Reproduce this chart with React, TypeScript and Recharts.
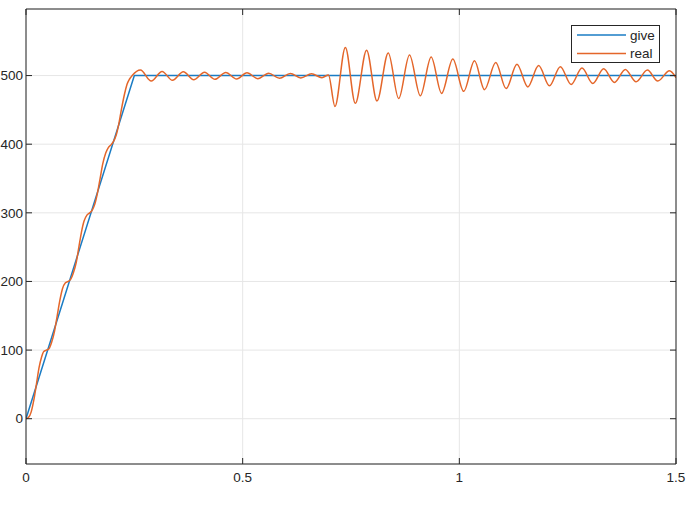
import React from 'react'
import { ComposedChart, Line, XAxis, YAxis, CartesianGrid, Legend } from 'recharts'

// reference signal: ramp to 500 then hold
const giveT = [0, 0.25, 1.5]
const giveV = [0, 500, 500]

const realT = [
  0, 0.006, 0.012, 0.018, 0.024, 0.03, 0.036, 0.041, 0.047,
  0.053, 0.059, 0.066, 0.072, 0.078, 0.084, 0.091, 0.097,
  0.103, 0.109, 0.116, 0.122, 0.128, 0.134, 0.141, 0.147,
  0.153, 0.159, 0.165, 0.171, 0.177, 0.184, 0.19, 0.196,
  0.202, 0.208, 0.214, 0.22, 0.227, 0.233, 0.239, 0.245,
  0.264, 0.289, 0.314, 0.338, 0.363, 0.387, 0.412, 0.436, 0.461, 0.486,
  0.51, 0.535, 0.56, 0.585, 0.61, 0.634, 0.659, 0.683, 0.698,
  0.713, 0.737, 0.76, 0.786, 0.81, 0.836, 0.86, 0.885, 0.91, 0.935,
  0.959, 0.985, 1.01, 1.035, 1.058, 1.084, 1.108, 1.133, 1.158, 1.183,
  1.208, 1.233, 1.258, 1.283, 1.308, 1.333, 1.358, 1.383, 1.408, 1.434,
  1.458, 1.485, 1.5
]
const realV = [
  0, 2, 10, 27, 50, 74, 90, 98, 100,
  102, 111, 128, 150, 172, 189, 198, 200,
  203, 212, 228, 250, 272, 288, 297, 300,
  304, 313, 329, 350, 371, 387, 395, 399,
  404, 413, 429, 450, 472, 487, 495, 500,
  508, 492, 506, 493, 505.5, 494, 505, 494.5, 504.5, 495,
  504, 495.5, 503.5, 496, 503, 496.5, 502.5, 497, 501,
  455, 541, 459.5, 537, 463, 533, 466.5, 530, 470.5, 527,
  474, 524, 477, 521.5, 479.5, 519, 481, 516.5, 483.5, 514.5,
  485, 513, 487, 511, 488.5, 510, 490, 509, 491, 508,
  492, 507, 497
]

const xTicks = [0, 0.5, 1, 1.5]
const yTicks = [0, 100, 200, 300, 400, 500]

const giveData = giveT.map((t, i) => ({ t, v: giveV[i] }))
const realData = realT.map((t, i) => ({ t, v: realV[i] }))

const AXIS = '#262626'
const FONT = '"Liberation Sans", Arial, Helvetica, sans-serif'
const FS = 13.5

const LeftTick = ({ x, y, payload }: any) => (
  <g>
    <line x1={x + 3} x2={x + 9} y1={y} y2={y} stroke={AXIS} />
    <text x={x} y={y} dy="0.355em" textAnchor="end" fill={AXIS} fontSize={FS} fontFamily={FONT}>
      {payload.value}
    </text>
  </g>
)

const BottomTick = ({ x, y, payload }: any) => (
  <g>
    <line x1={x} x2={x} y1={y - 8} y2={y - 14} stroke={AXIS} />
    <text x={x} y={y} dy="0.71em" textAnchor="middle" fill={AXIS} fontSize={FS} fontFamily={FONT}>
      {payload.value}
    </text>
  </g>
)

const TopTick = ({ x, y }: any) => <line x1={x} x2={x} y1={y} y2={y + 6} stroke={AXIS} />

const RightTick = ({ x, y }: any) => <line x1={x} x2={x - 6} y1={y} y2={y} stroke={AXIS} />

const LegendBox = ({ payload }: any) => (
  <svg width={89} height={38} style={{ display: 'block' }}>
    <rect x={0.5} y={0.5} width={88} height={37} fill="#fff" stroke={AXIS} />
    {(payload || []).map((p: any, i: number) => (
      <g key={p.value}>
        <line x1={6} x2={55} y1={10 + 18.5 * i} y2={10 + 18.5 * i} stroke={p.color} strokeWidth={1.5} />
        <text x={59} y={10 + 18.5 * i} dy="0.355em" fill={AXIS} fontSize={FS} fontFamily={FONT}>
          {p.value}
        </text>
      </g>
    ))}
  </svg>
)

export default function App() {
  return (
    <div style={{ position: 'absolute', left: 0, top: 0, background: '#fff' }}>
      <ComposedChart width={692} height={509} margin={{ top: 0, right: 0, bottom: 0, left: 0 }}>
        <CartesianGrid stroke="#e6e6e6" strokeWidth={1} />
        <XAxis
          dataKey="t"
          type="number"
          domain={[0, 1.5]}
          ticks={xTicks}
          allowDataOverflow
          height={45}
          tickSize={0}
          tickMargin={8}
          tickLine={false}
          axisLine={{ stroke: AXIS }}
          tick={<BottomTick />}
        />
        <XAxis
          xAxisId="t"
          orientation="top"
          dataKey="t"
          type="number"
          domain={[0, 1.5]}
          ticks={xTicks}
          allowDataOverflow
          height={9}
          tickSize={0}
          tickMargin={0}
          tickLine={false}
          axisLine={{ stroke: AXIS }}
          tick={<TopTick />}
        />
        <YAxis
          type="number"
          domain={[-66, 597]}
          ticks={yTicks}
          allowDataOverflow
          width={26}
          tickSize={0}
          tickMargin={3}
          tickLine={false}
          axisLine={{ stroke: AXIS }}
          tick={<LeftTick />}
        />
        <YAxis
          yAxisId="r"
          orientation="right"
          type="number"
          domain={[-66, 597]}
          ticks={yTicks}
          allowDataOverflow
          width={16}
          tickSize={0}
          tickMargin={0}
          tickLine={false}
          axisLine={{ stroke: AXIS }}
          tick={<RightTick />}
        />
        <Legend
          layout="vertical"
          align="center"
          verticalAlign="middle"
          content={<LegendBox />}
          wrapperStyle={{ left: 571, top: 25, right: 'auto', bottom: 'auto', width: 89, height: 38 }}
        />
        <Line
          data={giveData}
          dataKey="v"
          name="give"
          type="linear"
          stroke="#1A7CC4"
          strokeWidth={1.5}
          dot={false}
          activeDot={false}
          isAnimationActive={false}
        />
        <Line
          data={realData}
          dataKey="v"
          name="real"
          type="monotone"
          stroke="#E4662A"
          strokeWidth={1.5}
          dot={false}
          activeDot={false}
          isAnimationActive={false}
        />
      </ComposedChart>
    </div>
  )
}
